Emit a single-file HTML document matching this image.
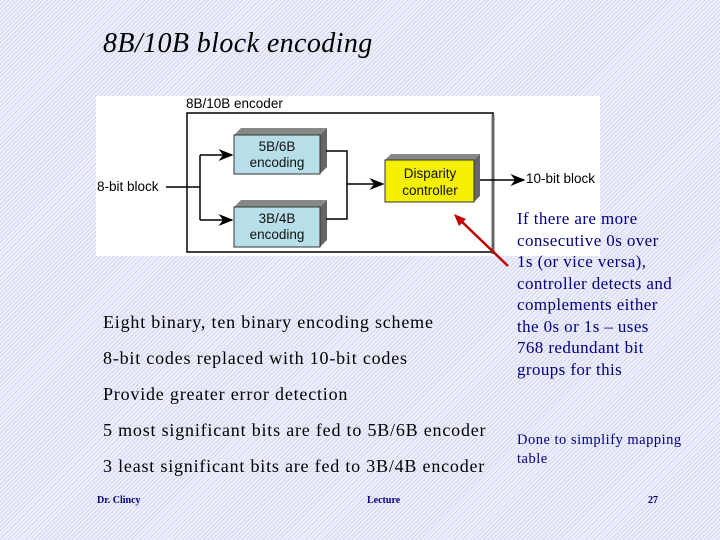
<!DOCTYPE html>
<html><head><style>
body{margin:0;width:720px;height:540px;overflow:hidden;position:relative;
background:#e6e8f8 repeating-linear-gradient(135deg,#d2d6f2 0 1px,#eef0fb 1px 3px);
font-family:"Liberation Serif",serif;color:#000;}
.t{position:absolute;white-space:nowrap;}
.m{font-size:18px;letter-spacing:0.8px;}
.b{color:#000080;font-size:17px;line-height:21.5px;letter-spacing:0.4px;}
</style></head><body>
<div class="t" style="left:103px;top:28px;font-size:28px;letter-spacing:0.4px;font-style:italic;">8B/10B block encoding</div>
<svg style="position:absolute;left:0;top:0" width="720" height="540">
<defs><marker id="a" markerWidth="10" markerHeight="8" refX="9" refY="4" orient="auto"><path d="M0,0 L10,4 L0,8 L3,4z" fill="#000"/></marker></defs>
<rect x="96" y="96" width="504" height="160" fill="#fff"/>
<g font-family="Liberation Sans,sans-serif" font-size="13.5">
<text x="186" y="108">8B/10B encoder</text>
<rect x="187" y="113" width="306" height="139" fill="#fff" stroke="#000" stroke-width="1.5"/>
<line x1="493" y1="115" x2="493" y2="254" stroke="#666" stroke-width="3"/>
<polygon points="234,135 241,128 327,128 320,135" fill="#888"/>
<polygon points="320,135 327,128 327,167 320,174" fill="#666"/>
<rect x="234" y="135" width="86" height="39" fill="#b7dfe9" stroke="#333"/>
<text x="277" y="151" text-anchor="middle" fill="#111">5B/6B</text>
<text x="277" y="167" text-anchor="middle" fill="#111">encoding</text>
<polygon points="234,207 241,200 327,200 320,207" fill="#888"/>
<polygon points="320,207 327,200 327,240 320,247" fill="#666"/>
<rect x="234" y="207" width="86" height="40" fill="#b7dfe9" stroke="#333"/>
<text x="277" y="223" text-anchor="middle" fill="#111">3B/4B</text>
<text x="277" y="239" text-anchor="middle" fill="#111">encoding</text>
<polygon points="385,160 391,154 480,154 474,160" fill="#888"/>
<polygon points="474,160 480,154 480,196 474,202" fill="#666"/>
<rect x="385" y="160" width="89" height="42" fill="#f5f000" stroke="#333"/>
<text x="430" y="178" text-anchor="middle" fill="#111">Disparity</text>
<text x="430" y="195" text-anchor="middle" fill="#111">controller</text>
<text x="97" y="191">8-bit block</text>
<text x="526" y="183">10-bit block</text>
</g>
<g stroke="#000" stroke-width="1.5" fill="none">
<line x1="166" y1="187" x2="200" y2="187"/>
<polyline points="200,155 200,220"/>
<line x1="200" y1="155" x2="232" y2="155" marker-end="url(#a)"/>
<line x1="200" y1="220" x2="232" y2="220" marker-end="url(#a)"/>
<polyline points="326,151 347,151 347,219 326,219"/>
<line x1="347" y1="184" x2="383" y2="184" marker-end="url(#a)"/>
<line x1="480" y1="180" x2="524" y2="180" marker-end="url(#a)"/>
</g>
<line x1="508" y1="266" x2="458" y2="218" stroke="#c00000" stroke-width="2.5"/>
<polygon points="454,214 466,219 459,226" fill="#c00000"/>
</svg>
<div class="t m" style="left:103px;top:312px;">Eight binary, ten binary encoding scheme</div>
<div class="t m" style="left:103px;top:348px;">8-bit codes replaced with 10-bit codes</div>
<div class="t m" style="left:103px;top:384px;">Provide greater error detection</div>
<div class="t m" style="left:103px;top:420px;">5 most significant bits are fed to 5B/6B encoder</div>
<div class="t m" style="left:103px;top:456px;">3 least significant bits are fed to 3B/4B encoder</div>
<div class="t b" style="left:517px;top:208px;">If there are more<br>consecutive 0s over<br>1s (or vice versa),<br>controller detects and<br>complements either<br>the 0s or 1s – uses<br>768 redundant bit<br>groups for this</div>
<div class="t b" style="left:517px;top:431px;font-size:14.5px;line-height:19px;letter-spacing:0.5px;">Done to simplify mapping<br>table</div>
<div class="t" style="left:97px;top:495px;font-size:10px;font-weight:bold;color:#000080;">Dr. Clincy</div>
<div class="t" style="left:367px;top:495px;font-size:10px;font-weight:bold;color:#000080;">Lecture</div>
<div class="t" style="left:648px;top:495px;font-size:10px;font-weight:bold;color:#000080;">27</div>
</body></html>
